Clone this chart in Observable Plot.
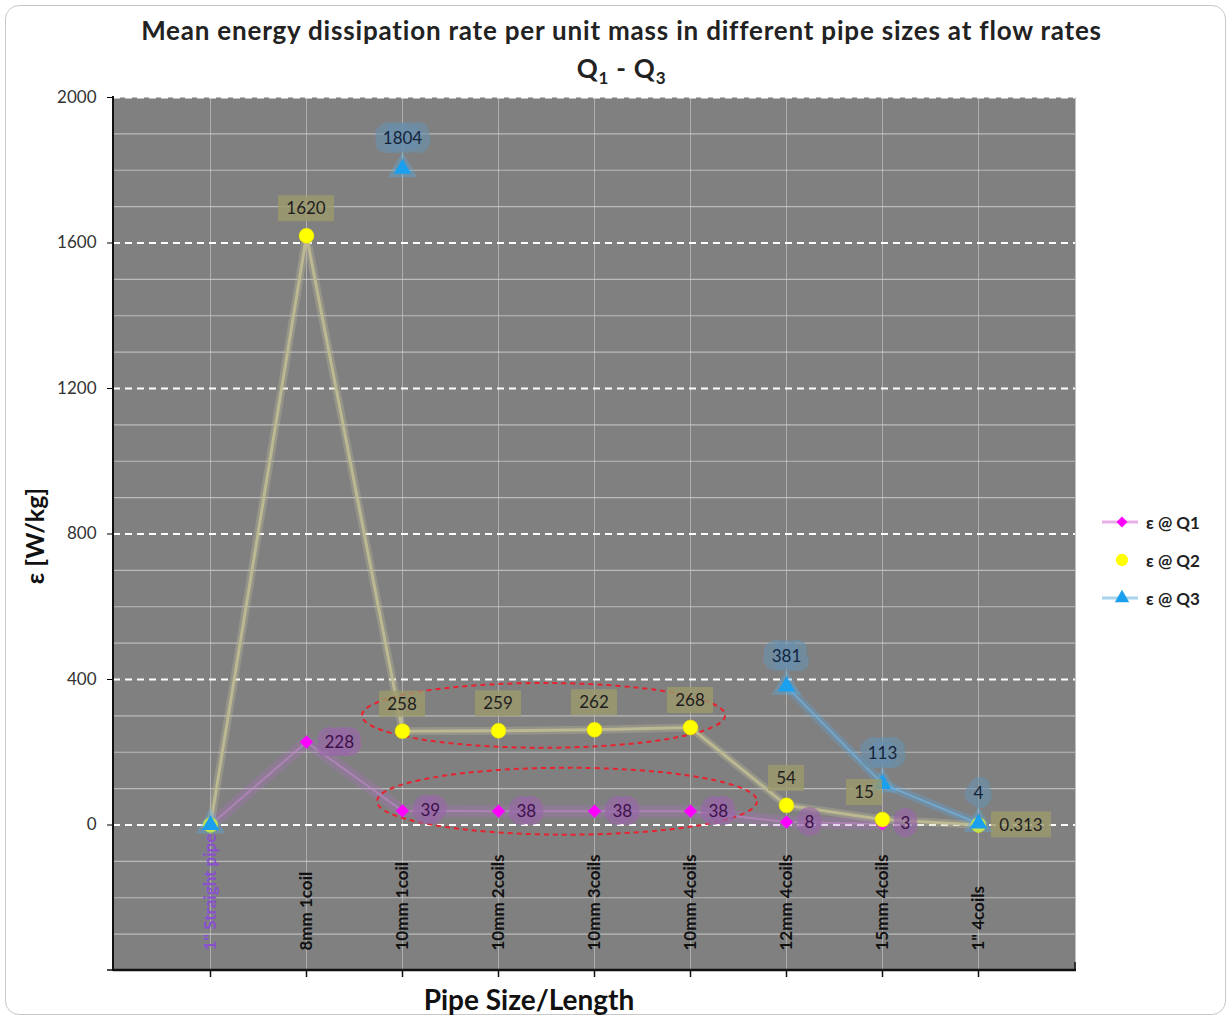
<!DOCTYPE html>
<html><head><meta charset="utf-8">
<script src="https://cdn.jsdelivr.net/npm/d3@7"></script>
<script src="https://cdn.jsdelivr.net/npm/@observablehq/plot@0.6"></script>
<style>
body{margin:0;background:#fff;font-family:Lato,"Open Sans",sans-serif;}
#wrap{position:relative;width:1231px;height:1020px;overflow:hidden;}
#border{position:absolute;left:5px;top:5px;width:1221px;height:1010px;border:1px solid #c8c8c8;border-radius:14px;box-sizing:border-box;}
#title{position:absolute;left:6px;top:11px;width:1231px;text-align:center;font-weight:bold;font-size:26px;letter-spacing:0.8px;color:#222;line-height:38px;}
#title sub{font-size:17px;line-height:0;}
#chart{position:absolute;left:0;top:80px;}
#xlabel{position:absolute;left:279px;width:500px;top:982px;text-align:center;font-weight:bold;font-size:28px;color:#111;line-height:34px;}
#legend{position:absolute;left:1100px;top:503px;font-size:17px;font-weight:bold;color:#222;}
#legend div{height:38px;display:flex;align-items:center;}
#legend svg{margin-right:6px;}
</style></head>
<body>
<div id="wrap">
  <div id="border"></div>
  <div id="title">Mean energy dissipation rate per unit mass in different pipe sizes at flow rates<br>Q<sub>1</sub> - Q<sub>3</sub></div>
  <div id="chart"></div>
  <div id="xlabel">Pipe Size/Length</div>
  <div id="legend"></div>
</div>
<script>
// ---- data ----
const categories = ['1" Straight pipe','8mm 1coil','10mm 1coil','10mm 2coils','10mm 3coils','10mm 4coils','12mm 4coils','15mm 4coils','1" 4coils'];
const q1 = [0, 228, 39, 38, 38, 38, 8, 3, null];
const q2 = [0, 1620, 258, 259, 262, 268, 54, 15, 0.313];
const q3 = [0, null, 1804, null, null, null, 381, 113, 4];
const seriesNames = ["ε @ Q1", "ε @ Q2", "ε @ Q3"];
const yTicks = [0, 400, 800, 1200, 1600, 2000];
const minorTicks = [-300,-200,-100,100,200,300,500,600,700,900,1000,1100,1300,1400,1500,1700,1800,1900];

// annotation ellipses (groups of nearly equal values)
const ellipseNotes = [
  {from: "10mm 1coil", to: "10mm 4coils", center: 300, half: 89, padL: 40, padR: 35},
  {from: "10mm 1coil", to: "10mm 4coils", center: 64, half: 92, padL: 25, padR: 67}
];
// label placement for Q2 labels that are moved to avoid overlap
const q2Placement = {"15mm 4coils": "topleft", '1" 4coils': "right"};

const rows = categories.map((c, i) => ({cat: c, q1: q1[i], q2: q2[i], q3: q3[i], i}));
const labelled = rows.filter(d => d.i > 0);
const fmt = v => String(v);

const ellipseMark = (index, scales) => {
  const g = d3.create("svg:g");
  for (const e of ellipseNotes) {
    const x1 = scales.x(e.from) - e.padL, x2 = scales.x(e.to) + e.padR;
    const yc = scales.y(e.center), ry = Math.abs(scales.y(e.center + e.half) - yc);
    g.append("ellipse").attr("cx", (x1 + x2) / 2).attr("cy", yc).attr("rx", (x2 - x1) / 2).attr("ry", ry)
      .attr("fill", "none").attr("stroke", "#e8222e").attr("stroke-width", 2).attr("stroke-dasharray", "5,4");
  }
  return g.node();
};

const q2Labels = (index, scales) => {
  const g = d3.create("svg:g").attr("font-size", 17).attr("text-anchor", "middle");
  for (const d of labelled) {
    if (d.q2 == null) continue;
    const t = fmt(d.q2);
    const place = q2Placement[d.cat] || "top";
    let cx = scales.x(d.cat), cy = scales.y(d.q2);
    if (place === "top") cy -= 27;
    else if (place === "topleft") { cx -= 18; cy -= 27; }
    else if (place === "right") cx += 43;
    const w = t.replace(".", "").length * 10 + (t.includes(".") ? 4 : 0) + 16, h = 26;
    g.append("rect").attr("x", cx - w / 2).attr("y", cy - h / 2).attr("width", w).attr("height", h)
      .attr("fill", "#9c9a6c").attr("fill-opacity", 0.8);
    g.append("text").attr("x", cx).attr("y", cy).attr("dy", "0.36em").attr("fill", "#1e1e1e").text(t);
  }
  return g.node();
};

const axisLines = (index, scales, values, dims) => {
  const g = d3.create("svg:g").attr("stroke", "#111");
  const l = dims.marginLeft, r = dims.width - dims.marginRight, t = dims.marginTop, b = dims.height - dims.marginBottom;
  g.append("line").attr("x1", l).attr("x2", l).attr("y1", t - 1).attr("y2", b + 1).attr("stroke-width", 2);
  g.append("line").attr("x1", l).attr("x2", r + 1).attr("y1", b).attr("y2", b).attr("stroke-width", 2.5);
  g.append("line").attr("x1", r).attr("x2", r).attr("y1", b).attr("y2", b - 8).attr("stroke-width", 1.5);
  g.append("line").attr("x1", l - 6).attr("x2", l).attr("y1", b).attr("y2", b).attr("stroke-width", 1.5);
  return g.node();
};

const chart = Plot.plot({
  width: 1231, height: 940,
  marginTop: 17, marginBottom: 50, marginLeft: 113, marginRight: 156,
  style: {fontFamily: "Lato, 'Open Sans', sans-serif", background: "transparent"},
  x: {type: "point", domain: categories, padding: 1},
  y: {domain: [-400, 2000]},
  marks: [
    Plot.frame({fill: "#808080", stroke: null}),
    Plot.ruleY(minorTicks, {stroke: "#cfcfcf", strokeWidth: 1.2, strokeOpacity: 0.75}),
    Plot.ruleX(categories, {stroke: "#cfcfcf", strokeWidth: 1, strokeOpacity: 0.6}),
    Plot.ruleY(yTicks, {stroke: "#ffffff", strokeWidth: 2, strokeDasharray: "7,5"}),
    // line glows
    Plot.line(rows, {x: "cat", y: "q1", stroke: "#b070c8", strokeWidth: 12, strokeOpacity: 0.28}),
    Plot.line(rows, {x: "cat", y: "q2", stroke: "#c8c49a", strokeWidth: 8, strokeOpacity: 0.3}),
    Plot.line(rows, {x: "cat", y: "q3", stroke: "#5aa8e0", strokeWidth: 9, strokeOpacity: 0.3}),
    // lines
    Plot.line(rows, {x: "cat", y: "q1", stroke: "#c888d0", strokeWidth: 2, strokeOpacity: 0.55}),
    Plot.line(rows, {x: "cat", y: "q2", stroke: "#bdb992", strokeWidth: 3, strokeOpacity: 0.95}),
    Plot.line(rows, {x: "cat", y: "q3", stroke: "#70b4e4", strokeWidth: 2, strokeOpacity: 0.7}),
    ellipseMark,
    // markers
    Plot.dot(rows, {x: "cat", y: "q1", symbol: "diamond2", r: 6, fill: "#ff00ff", stroke: "#c040d0", strokeWidth: 0.5}),
    Plot.dot(rows, {x: "cat", y: "q2", symbol: "circle", r: 7.5, fill: "#ffff00", stroke: "#e0d800", strokeWidth: 0.5}),
    Plot.dot(rows, {x: "cat", y: "q3", symbol: "triangle", r: 11, fill: "#5ab0e8", fillOpacity: 0.35}),
    Plot.dot(rows, {x: "cat", y: "q3", symbol: "triangle", r: 6.5, fill: "#1aa0ee"}),
    // data labels
    Plot.text(labelled.filter(d => d.q1 != null), {x: "cat", y: "q1", text: d => fmt(d.q1), dx: 18, textAnchor: "start",
      fill: "#3c1048", stroke: "#9868a8", strokeWidth: 16, strokeOpacity: 0.7, strokeLinejoin: "round", paintOrder: "stroke", fontSize: 17}),
    q2Labels,
    Plot.text(labelled.filter(d => d.q3 != null), {x: "cat", y: "q3", text: d => fmt(d.q3), dy: -30,
      fill: "#14243a", stroke: "#6890ae", strokeWidth: 18, strokeOpacity: 0.65, strokeLinejoin: "round", paintOrder: "stroke", fontSize: 17}),
    // category labels
    Plot.text(categories, {x: d => d, frameAnchor: "bottom", dy: -20, rotate: -90, textAnchor: "start", lineAnchor: "middle",
      fill: d => d === categories[0] ? "#8a50d0" : "#111", fontWeight: "bold", fontSize: 17}),
    Plot.axisY(yTicks, {tickSize: 6, tickPadding: 11, fontSize: 17, fill: "#333", label: null, tickFormat: d => String(d)}),
    Plot.axisX({tickSize: 7, tickFormat: () => "", label: null, strokeWidth: 1.5, stroke: "#111"}),
    axisLines,
    Plot.text(["ε [W/kg]"], {frameAnchor: "left", dx: -78, dy: 2, rotate: -90, textAnchor: "middle", lineAnchor: "middle",
      fontSize: 25, fontWeight: "bold", fill: "#111"})
  ]
});
document.getElementById("chart").appendChild(chart);

// legend
const legendItems = [
  {name: seriesNames[0], color: "#ff00ff", line: "#e8b0e8", sym: d3.symbolSquare, rot: 45, size: 60},
  {name: seriesNames[1], color: "#ffff00", line: null, sym: d3.symbolCircle, rot: 0, size: 120},
  {name: seriesNames[2], color: "#1aa0ee", line: "#a8d4ee", sym: d3.symbolTriangle, rot: 0, size: 90}
];
const leg = d3.select("#legend");
for (const it of legendItems) {
  const row = leg.append("div");
  const s = row.append("svg").attr("width", 40).attr("height", 20);
  if (it.line) s.append("line").attr("x1", 2).attr("x2", 38).attr("y1", 10).attr("y2", 10).attr("stroke", it.line).attr("stroke-width", 3);
  s.append("path").attr("d", d3.symbol(it.sym, it.size)()).attr("transform", `translate(22,10) rotate(${it.rot})`).attr("fill", it.color);
  row.append("span").text(it.name);
}
</script>
</body></html>
